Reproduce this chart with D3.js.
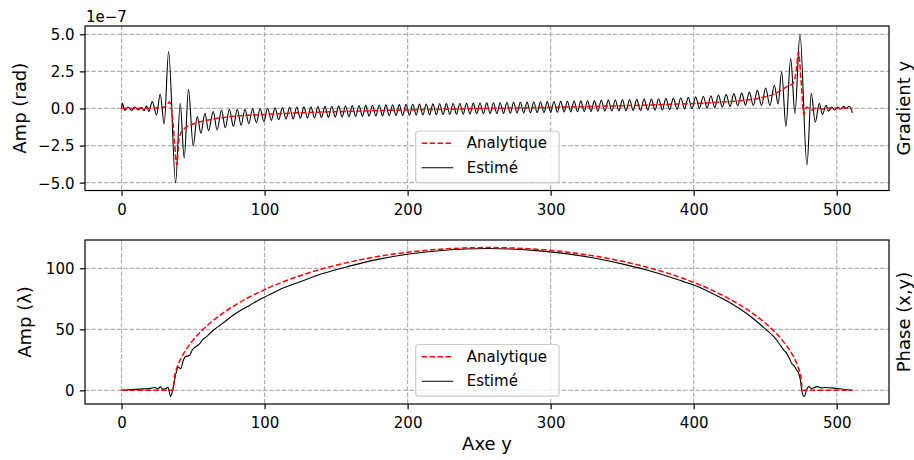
<!DOCTYPE html>
<html><head><meta charset="utf-8">
<script src="https://cdn.jsdelivr.net/npm/d3@7"></script>
<style>
html,body{margin:0;padding:0;background:#fff;}
svg{display:block;font-family:"DejaVu Sans",sans-serif;}
</style></head>
<body><svg id="chart" width="914" height="460"></svg>
<script>
// ---------------- data ----------------
const xTicks = [0, 100, 200, 300, 400, 500];
const gradTicks = [-5, -2.5, 0, 2.5, 5];
const phaseTicks = [0, 50, 100];
const legendLabels = ["Analytique", "Estimé"];
const gradExponent = "1e\u22127";

// analytic y-gradient (units of 1e-7 rad), [y, value]
const gradAnalytic = [[0,0],[20,0.02],[26,0.05],[30,0.1],[32,0.25],[33.6,0.45],[35.5,-0.5],[37,-2.2],[38.6,-3.8],[40,-2.2],[41.5,-1.65],[44,-1.35],[47,-1.15],[50,-1.05],[55,-0.9],[60,-0.8],[66,-0.68],[72,-0.6],[78,-0.53],[90,-0.45],[100,-0.4],[112,-0.34],[125,-0.29],[140,-0.24],[160,-0.19],[180,-0.14],[200,-0.1],[228,-0.05],[256,0],[284,0.05],[312,0.1],[332,0.14],[352,0.19],[372,0.24],[390,0.3],[411,0.38],[422,0.45],[434,0.53],[440,0.6],[446,0.7],[451,0.82],[456,0.95],[460,1.15],[465,1.45],[469.5,1.7],[471.5,2.4],[473.3,3.8],[475,2.0],[477,-0.4],[479,0.1],[482.5,-0.1],[486,0.05],[490,-0.03],[495,0.03],[511,0]];

// estimated y-gradient (units of 1e-7 rad), [y, value]
const gradEstimated = [[0,0],[0.6,0.35],[2.3,-0.12],[4.6,0.1],[7.0,-0.12],[9.3,0.1],[11.6,-0.1],[13.9,0.08],[15.8,-0.15],[17.4,0.18],[19.1,-0.2],[21.5,0.46],[24.5,-0.44],[27.0,0.98],[29.8,-1.04],[32.9,3.83],[37.8,-5.0],[41.0,0.35],[43.8,-3.36],[46.8,1.29],[50.1,-2.53],[52.9,-0.55],[55.5,-1.67],[58.3,-0.33],[60.8,-1.5],[64.1,-0.21],[66.8,-1.45],[69.9,-0.1],[72.5,-1.3],
[75.4,-0.05],[78.2,-1.22],[80.9,-0.05],[83.6,-1.13],[86.3,-0.05],[89.0,-1.03],[91.6,-0.02],[94.3,-0.96],[96.9,0.0],[99.5,-0.88],[102.1,0.02],[104.7,-0.8],[107.3,0.04],[109.9,-0.76],[112.4,0.06],[115.0,-0.72],[117.5,0.08],[120.0,-0.7],[122.5,0.1],[125.0,-0.67],[127.5,0.11],[130.0,-0.65],[132.4,0.12],[134.9,-0.63],[137.3,0.13],[139.8,-0.61],[142.2,0.14],[144.6,-0.6],[147.0,0.15],[149.4,-0.58],[151.8,0.16],[154.2,-0.57],[156.6,0.17],[159.0,-0.56],[161.3,0.19],[163.7,-0.54],[166.0,0.2],[168.4,-0.53],[170.7,0.21],[173.1,-0.52],[175.4,0.22],[177.8,-0.51],[180.1,0.23],[182.5,-0.5],[184.8,0.24],[187.2,-0.49],[189.5,0.25],[191.9,-0.48],[194.2,0.26],[196.6,-0.47],[198.9,0.27],[201.3,-0.46],[203.6,0.28],[206.0,-0.45],[208.3,0.29],[210.7,-0.44],[213.0,0.3],[215.4,-0.43],[217.7,0.31],[220.1,-0.42],[222.4,0.32],[224.8,-0.41],[227.1,0.33],[229.5,-0.4],[231.8,0.34],[234.2,-0.39],[236.5,0.34],[238.9,-0.38],[241.2,0.35],[243.6,-0.37],[245.9,0.36],[248.3,-0.36],[250.6,0.37],[253.0,-0.35],[255.3,0.38],[257.7,-0.35],[260.0,0.39],[262.4,-0.34],[264.7,0.39],[267.1,-0.33],[269.4,0.4],[271.8,-0.32],[274.1,0.41],[276.5,-0.31],[278.8,0.42],[281.2,-0.3],[283.5,0.43],[285.9,-0.29],[288.2,0.44],[290.6,-0.28],[292.9,0.45],[295.3,-0.27],[297.6,0.46],[300.0,-0.26],[302.3,0.47],[304.7,-0.25],[307.0,0.48],[309.4,-0.24],[311.7,0.49],[314.1,-0.23],[316.4,0.5],[318.8,-0.22],[321.1,0.51],[323.5,-0.21],[325.8,0.52],[328.2,-0.2],[330.6,0.53],[333.0,-0.19],[335.4,0.55],[337.9,-0.18],[340.3,0.56],[342.8,-0.17],[345.2,0.57],[347.7,-0.16],[350.2,0.58],[352.7,-0.15],[355.2,0.6],[357.7,-0.14],[360.2,0.61],[362.8,-0.13],[365.3,0.63],[367.9,-0.12],[370.4,0.64],[373.0,-0.11],[375.5,0.66],[378.1,-0.1],[380.6,0.68],[383.2,-0.08],[385.8,0.7],[388.4,-0.06],[391.0,0.72],[393.6,-0.04],[396.2,0.75],[398.8,-0.02],[401.4,0.78],[404.0,0.0],[406.7,0.82],[409.4,0.03],[412.0,0.86],[414.7,0.06],[417.3,0.9],[420.0,0.1],[422.7,0.95],[425.4,0.14],[428.1,1.0],[430.8,0.18],[433.6,1.05],[436.2,0.22],[438.9,1.1],[441.7,0.2],[444.5,1.22],[447.4,0.2],[450.3,1.38],[453.3,0.2],[456.4,1.57],[459.0,0.3],[461.5,2.48],[464.5,-1.22],[467.8,3.38],[470.8,-0.33],[474.3,5.0],[479.2,-3.81],[482.2,1.02],[485.0,-0.93],[487.8,0.34],[490.0,-0.4],[492.6,0.22],[494.3,-0.18],[496.6,0.1],[498.5,-0.1],[500.6,0.1],[502.5,-0.05],[504.8,0.15],[506.6,0.0],[508.7,0.15],[511,-0.3]];

// analytic phase (lambda), [y, value]
const phaseAnalytic = [[0,0],[35,0],[36,0],[37,11],[38,15.7],[40,22.2],[45,33.1],[50,41.1],[60,53.1],[70,62.5],[80,70.2],[90,76.8],[100,82.5],[120,92.0],[140,99.4],[160,105.3],[180,109.8],[200,113.2],[220,115.4],[240,116.7],[256,117],[272,116.7],[292,115.4],[312,113.2],[332,109.8],[352,105.3],[372,99.4],[392,92.0],[412,82.5],[422,76.8],[432,70.2],[442,62.5],[452,53.1],[462,41.1],[467,33.1],[472,22.2],[474,15.7],[475,11],[476,0],[511,0]];

// estimated phase (lambda), [y, value]
const phaseEstimated = [[0,0],[5,0.4],[10,0.8],[15,1.2],[20,1.6],[23.5,2.3],[25.5,1.2],[27,2.8],[29,0.8],[31,1.5],[32.5,2.5],[34.2,-5.0],[35.5,-1],[37,8],[38.5,16],[39.5,19],[41.5,17.8],[43,24],[44.5,27.5],[47.5,28.5],[49.5,33],[51.5,35.5],[54.5,38],[57,42],[59.5,44],[62,47],[64.5,49.5],[68.5,53],[73,57],[78,61.5],[84,66],[90,70],[95,73.5],[100,76.5],[110,82.3],[125,89],[140,95.5],[160,102],[180,107.5],[200,111.5],[220,114.2],[240,115.8],[256,116.2],[272,115.8],[292,114.3],[312,111.8],[332,108],[352,103],[372,97],[392,89.5],[400,86.3],[412,80],[422,74],[432,67],[442,58.5],[451,49.4],[456,44],[460,38],[463,33],[465,30.3],[467,26],[468.5,22],[470,20.5],[472,16.6],[473,15],[474.6,8.4],[475.5,0],[477.4,-5.2],[478.5,-1],[480.5,3],[482.5,1.3],[484,2.2],[486.7,3],[489,2],[492,2.3],[500,1.5],[511,0]];

// ---------------- drawing ----------------
const svg = d3.select("#chart");
svg.append("rect").attr("width",914).attr("height",460).attr("fill","#fff");

const L = 85, R = 889;
const x = d3.scaleLinear().domain([-25.55, 536.55]).range([L, R]);

const panels = [
  {top:26, bottom:190.5, domain:[-5.53,5.56], ticks:gradTicks, fmt:d3.format(".1f"),
   analytic:gradAnalytic, estimated:gradEstimated, ylabel:"Amp (rad)", ylabelX:26,
   rlabel:"Gradient y", offset:gradExponent, xlabel:null},
  {top:240, bottom:404, domain:[-11.2,123.2], ticks:phaseTicks, fmt:d3.format("d"),
   analytic:phaseAnalytic, estimated:phaseEstimated, ylabel:"Amp (\u03bb)", ylabelX:31,
   rlabel:"Phase (x,y)", offset:null, xlabel:"Axe y"}
];

const tickLen = 5.25, tickPad = 5.25, fs = 15;

panels.forEach((p, i) => {
  const y = d3.scaleLinear().domain(p.domain).range([p.bottom, p.top]);
  const g = svg.append("g");
  const clipId = "clip" + i;
  svg.append("clipPath").attr("id", clipId).append("rect")
    .attr("x", L).attr("y", p.top).attr("width", R - L).attr("height", p.bottom - p.top);

  // grid
  const grid = g.append("g").attr("stroke", "#b0b0b0").attr("stroke-width", 1.2)
    .attr("stroke-dasharray", "4.44,1.92");
  xTicks.forEach(t => grid.append("line").attr("x1", x(t)).attr("x2", x(t))
    .attr("y1", p.top).attr("y2", p.bottom));
  p.ticks.forEach(t => grid.append("line").attr("x1", L).attr("x2", R)
    .attr("y1", y(t)).attr("y2", y(t)));

  // lines
  const line = d3.line().x(d => x(d[0])).y(d => y(d[1])).curve(d3.curveMonotoneX);
  const lg = g.append("g").attr("clip-path", `url(#${clipId})`);
  lg.append("path").datum(p.estimated).attr("d", line)
    .attr("fill", "none").attr("stroke", "#000").attr("stroke-width", 1.1)
    .attr("stroke-linejoin", "round");
  lg.append("path").datum(p.analytic).attr("d", line)
    .attr("fill", "none").attr("stroke", "#ff0000").attr("stroke-width", 1.5)
    .attr("stroke-dasharray", "5.55,2.4");

  // axes
  const xa = g.append("g").attr("transform", `translate(0,${p.bottom})`)
    .call(d3.axisBottom(x).tickValues(xTicks).tickSize(tickLen).tickPadding(tickPad).tickFormat(d3.format("d")));
  xa.select(".domain").remove();
  xa.selectAll("line").attr("stroke", "#000").attr("stroke-width", 1.2);
  xa.selectAll("text").attr("font-size", fs).attr("font-family", "DejaVu Sans").attr("fill", "#000")
    .attr("dy", "0.93em");

  const ya = g.append("g").attr("transform", `translate(${L},0)`)
    .call(d3.axisLeft(y).tickValues(p.ticks).tickSize(tickLen).tickPadding(tickPad).tickFormat(p.fmt));
  ya.select(".domain").remove();
  ya.selectAll("line").attr("stroke", "#000").attr("stroke-width", 1.2);
  ya.selectAll("text").attr("font-size", fs).attr("font-family", "DejaVu Sans").attr("fill", "#000")
    .attr("dy", "0.36em");

  // frame
  g.append("rect").attr("x", L).attr("y", p.top).attr("width", R - L).attr("height", p.bottom - p.top)
    .attr("fill", "none").attr("stroke", "#000").attr("stroke-width", 1.2);

  // labels
  const cy = (p.top + p.bottom) / 2;
  g.append("text").attr("transform", `translate(${p.ylabelX},${cy}) rotate(-90)`)
    .attr("text-anchor", "middle").attr("font-size", 18).text(p.ylabel);
  g.append("text").attr("transform", `translate(910,${cy}) rotate(-90)`)
    .attr("text-anchor", "middle").attr("font-size", 18).text(p.rlabel);
  if (p.offset) g.append("text").attr("x", 86).attr("y", 21.7).attr("font-size", fs).text(p.offset);
  if (p.xlabel) g.append("text").attr("x", (L + R) / 2).attr("y", 450)
    .attr("text-anchor", "middle").attr("font-size", 18).text(p.xlabel);

  // legend (lower center)
  const bx = 415.7, bw = 143.3, bBottom = p.bottom - 7.8, bh = 51.7, bTop = bBottom - bh;
  const leg = g.append("g");
  leg.append("rect").attr("x", bx).attr("y", bTop).attr("width", bw).attr("height", bh)
    .attr("rx", 3).attr("fill", "#fff").attr("fill-opacity", 0.8)
    .attr("stroke", "#cccccc").attr("stroke-width", 1.2);
  const rows = [bTop + 12.3, bTop + 36.7];
  const styles = [{c:"#ff0000", w:1.5, dash:"5.55,2.4"}, {c:"#000", w:1.1, dash:null}];
  legendLabels.forEach((lab, k) => {
    const ln = leg.append("line").attr("x1", 421.7).attr("x2", 453.3)
      .attr("y1", rows[k]).attr("y2", rows[k]).attr("stroke", styles[k].c).attr("stroke-width", styles[k].w);
    if (styles[k].dash) ln.attr("stroke-dasharray", styles[k].dash);
    leg.append("text").attr("x", 466.7).attr("y", rows[k] + 4.9).attr("font-size", fs).text(lab);
  });
});
</script></body></html>
